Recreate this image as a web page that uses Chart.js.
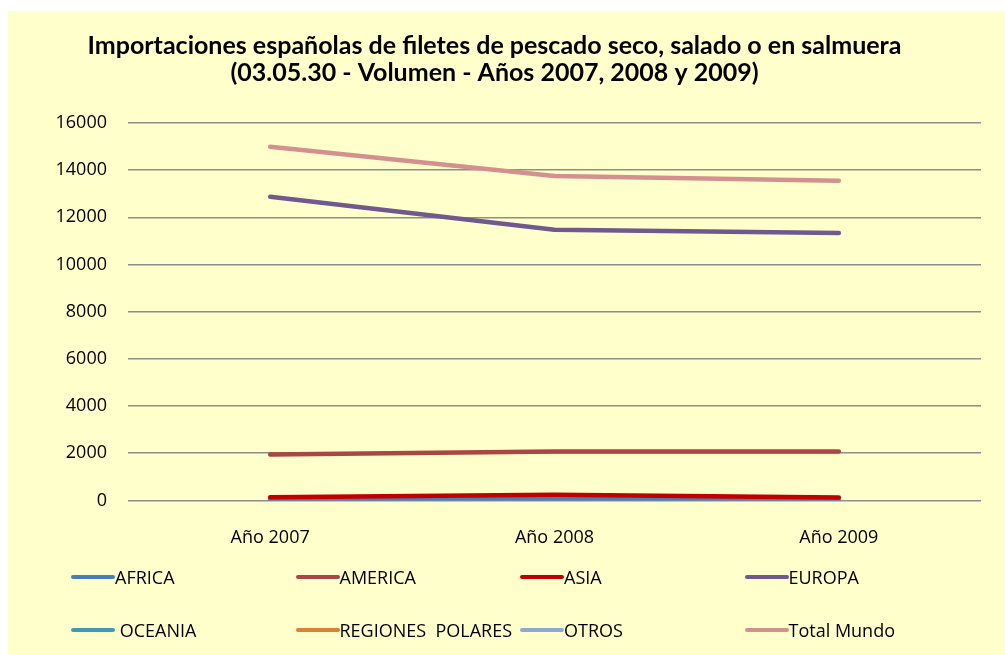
<!DOCTYPE html>
<html>
<head>
<meta charset="utf-8">
<script src="https://cdn.jsdelivr.net/npm/chart.js@4"></script>
<style>
  body { margin: 0; background: #fff; }
  #marco { position: absolute; left: 8px; top: 11px; width: 997px; height: 644px; background: #FFFFCC; }
  #grafico { position: absolute; left: 0; top: 0; }
  #leyenda { position: absolute; left: 63px; top: 555px; width: 920px; font-family: "Open Sans", sans-serif; font-size: 18px; color: #000; }
  .item { position: absolute; height: 22px; display: flex; align-items: center; white-space: pre; }
  .item span.linea { display: inline-block; width: 44px; height: 4px; border-radius: 2px; }
</style>
</head>
<body>
<div id="marco">
  <canvas id="grafico" width="997" height="644"></canvas>
  <div id="leyenda"></div>
</div>
<script>
// Datos (toneladas)
const categorias = ['Año 2007', 'Año 2008', 'Año 2009'];
const africa = [20, 60, 10];
const america = [1950, 2070, 2070];
const asia = [130, 240, 120];
const europa = [12870, 11470, 11340];
const oceania = [null, null, null];
const regionesPolares = [null, null, null];
const otros = [null, null, null];
const totalMundo = [14990, 13750, 13550];

const series = [
  { nombre: 'AFRICA', datos: africa, color: '#4A7EBB' },
  { nombre: 'AMERICA', datos: america, color: '#AA4643' },
  { nombre: 'ASIA', datos: asia, color: '#C00000' },
  { nombre: 'EUROPA', datos: europa, color: '#71588F' },
  { nombre: ' OCEANIA', datos: oceania, color: '#3F9BB8' },
  { nombre: 'REGIONES  POLARES', datos: regionesPolares, color: '#DE8036' },
  { nombre: 'OTROS', datos: otros, color: '#8EA8D6' },
  { nombre: 'Total Mundo', datos: totalMundo, color: '#D4908F' }
];

const fuente = '"Open Sans", sans-serif';

new Chart(document.getElementById('grafico'), {
  type: 'line',
  data: {
    labels: categorias,
    datasets: series.map((s, i) => ({
      label: s.nombre.trim(),
      data: s.datos,
      borderColor: s.color,
      backgroundColor: s.color,
      borderWidth: 4.5,
      borderCapStyle: 'round',
      borderJoinStyle: 'round',
      pointRadius: 0,
      tension: 0,
      order: series.length - i // como Excel: la última serie encima
    }))
  },
  options: {
    responsive: false,
    animation: false,
    layout: { padding: { left: 0, right: 24, top: 0, bottom: 87 } },
    plugins: {
      legend: { display: false },
      tooltip: { enabled: false },
      title: {
        display: true,
        text: ['Importaciones españolas de filetes de pescado seco, salado o en salmuera',
               '(03.05.30 - Volumen - Años 2007, 2008 y 2009)'],
        color: '#000',
        font: { family: 'Lato', size: 25, weight: 'bold', lineHeight: 1.08 },
        padding: { top: 21, bottom: 37 }
      }
    },
    scales: {
      x: {
        offset: true,
        grid: { display: false },
        border: { display: false },
        ticks: { color: '#000', padding: 19, font: { family: fuente, size: 18 } }
      },
      y: {
        min: 0,
        max: 16000,
        afterFit: s => { s.width = 120; },
        grid: { color: '#8E8E8E', lineWidth: 1.5, drawTicks: false },
        border: { display: false },
        ticks: {
          stepSize: 2000,
          color: '#000',
          padding: 21,
          font: { family: fuente, size: 18 },
          callback: v => String(v)
        }
      }
    }
  }
});

// Leyenda en 4 columnas, como en el original
const leyenda = document.getElementById('leyenda');
series.forEach((s, i) => {
  const item = document.createElement('div');
  item.className = 'item';
  item.style.left = (i % 4) * 224.5 + 'px';
  item.style.top = Math.floor(i / 4) * 53 + 'px';
  const linea = document.createElement('span');
  linea.className = 'linea';
  linea.style.background = s.color;
  item.appendChild(linea);
  item.appendChild(document.createTextNode(s.nombre));
  leyenda.appendChild(item);
});
</script>
</body>
</html>
